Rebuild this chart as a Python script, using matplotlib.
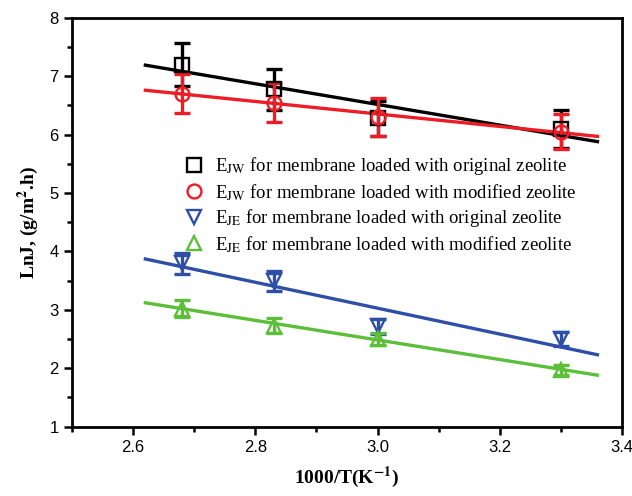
import numpy as np
import matplotlib
matplotlib.use("Agg")
import matplotlib.pyplot as plt
from matplotlib.ticker import MultipleLocator

plt.rcParams["mathtext.fontset"] = "stix"

# data
x = [2.68, 2.83, 3.00, 3.30]

jw_orig = [7.20, 6.78, 6.28, 6.10]
jw_orig_err = [0.37, 0.35, 0.30, 0.33]
jw_mod = [6.70, 6.55, 6.30, 6.05]
jw_mod_err = [0.33, 0.33, 0.32, 0.30]
je_orig = [3.80, 3.50, 2.72, 2.50]
je_orig_err = [0.18, 0.17, 0.13, 0.12]
je_mod = [3.02, 2.73, 2.50, 1.97]
je_mod_err = [0.15, 0.13, 0.10, 0.08]

# fitted lines (end values)
fit_x = [2.62, 3.36]
fit_jw_orig = [7.19, 5.88]
fit_jw_mod = [6.76, 5.97]
fit_je_orig = [3.87, 2.23]
fit_je_mod = [3.12, 1.88]

labels = [
    r"E$_{\mathrm{JW}}$ for membrane loaded with original zeolite",
    r"E$_{\mathrm{JW}}$ for membrane loaded with modified zeolite",
    r"E$_{\mathrm{JE}}$ for membrane loaded with original zeolite",
    r"E$_{\mathrm{JE}}$ for membrane loaded with modified zeolite",
]

series = [
    (jw_orig, jw_orig_err, fit_jw_orig, "black", "s"),
    (jw_mod, jw_mod_err, fit_jw_mod, "#ee1c25", "o"),
    (je_orig, je_orig_err, fit_je_orig, "#2e4fa8", "v"),
    (je_mod, je_mod_err, fit_je_mod, "#5bbf3a", "^"),
]

fig = plt.figure(figsize=(6.32, 4.96), dpi=100)
ax = fig.add_axes([0.114, 0.14, 0.87, 0.824])

handles = []
for (y, err, fit, col, mk), lab in zip(series, labels):
    ax.plot(fit_x, fit, color=col, lw=2.4, zorder=2)
    ax.errorbar(x, y, yerr=err, fmt="none", ecolor=col, elinewidth=2.4,
                capsize=6, capthick=2.4, zorder=3)
    h, = ax.plot(x, y, linestyle="none", marker=mk, ms=10, mfc="none",
                 mec=col, mew=1.7, zorder=4, label=lab)
    handles.append(h)

ax.set_xlim(2.5, 3.4)
ax.set_ylim(1, 8)
ax.xaxis.set_major_locator(MultipleLocator(0.2))
ax.xaxis.set_minor_locator(MultipleLocator(0.1))
ax.yaxis.set_major_locator(MultipleLocator(1))
ax.yaxis.set_minor_locator(MultipleLocator(0.5))
ax.set_xticks([2.6, 2.8, 3.0, 3.2, 3.4])
ax.set_xticklabels(["2.6", "2.8", "3.0", "3.2", "3.4"])
ax.tick_params(which="both", direction="out", width=1.8, top=False, right=False)
ax.tick_params(which="major", length=6, labelsize=12)
ax.tick_params(which="minor", length=3.5)
for t in ax.get_xticklabels() + ax.get_yticklabels():
    t.set_fontfamily("Liberation Sans")
for s in ax.spines.values():
    s.set_linewidth(2)

ax.set_xlabel(r"1000/T(K$^{\mathbf{-1}}$)", fontfamily="Liberation Serif",
              fontweight="bold", fontsize=14, labelpad=7)
ax.set_ylabel(r"LnJ, (g/m$^{\mathbf{2}}$.h)", fontfamily="Liberation Serif",
              fontweight="bold", fontsize=14, labelpad=6)

ax.legend(handles=handles, loc="upper left", bbox_to_anchor=(0.17, 0.705),
          frameon=False, prop={"family": "Liberation Serif", "size": 13.5},
          handletextpad=0.55, labelspacing=0.25, handlelength=1.2)

fig.savefig("out.png", dpi=100)
